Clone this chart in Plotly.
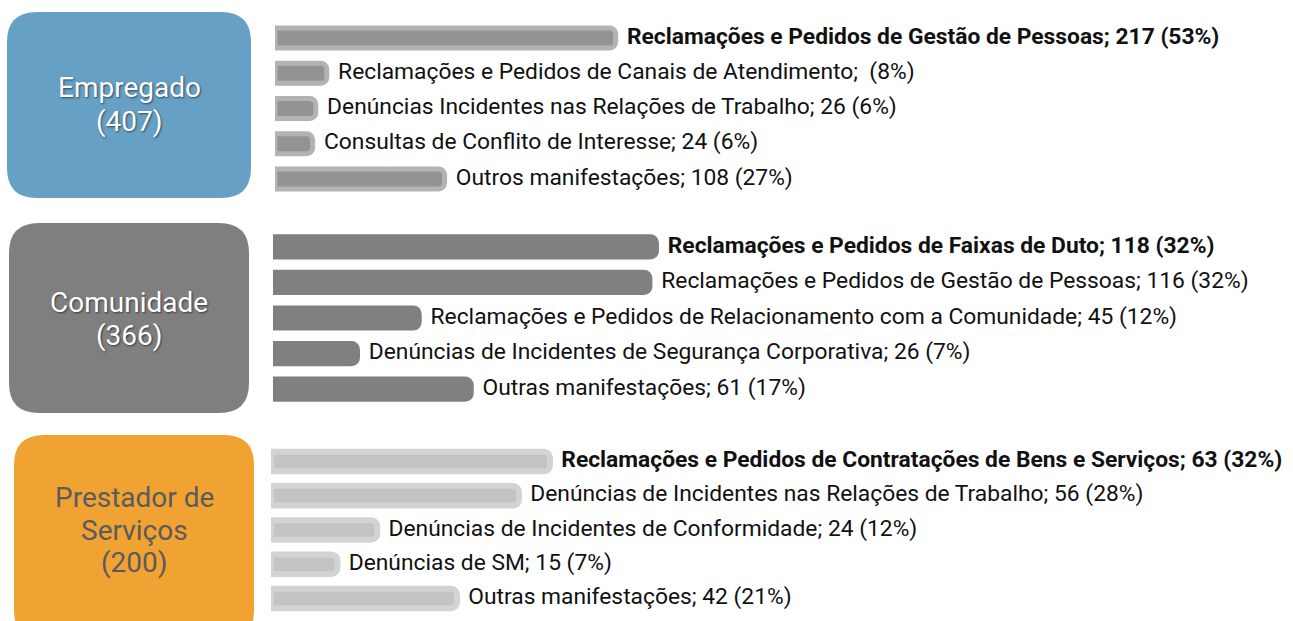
import plotly.graph_objects as go

W, H = 1293, 621

# ---------------- data ----------------
emp_categories = [
    "Reclamações e Pedidos de Gestão de Pessoas",
    "Reclamações e Pedidos de Canais de Atendimento",
    "Denúncias Incidentes nas Relações de Trabalho",
    "Consultas de Conflito de Interesse",
    "Outros manifestações",
]
emp_values = [217, 33, 26, 24, 108]
emp_labels = [
    "<b>Reclamações e Pedidos de Gestão de Pessoas; 217 (53%)</b>",
    "Reclamações e Pedidos de Canais de Atendimento;\u00a0\u00a0(8%)",
    "Denúncias Incidentes nas Relações de Trabalho; 26 (6%)",
    "Consultas de Conflito de Interesse; 24 (6%)",
    "Outros manifestações; 108 (27%)",
]

com_categories = [
    "Reclamações e Pedidos de Faixas de Duto",
    "Reclamações e Pedidos de Gestão de Pessoas",
    "Reclamações e Pedidos de Relacionamento com a Comunidade",
    "Denúncias de Incidentes de Segurança Corporativa",
    "Outras manifestações",
]
com_values = [118, 116, 45, 26, 61]
com_labels = [
    "<b>Reclamações e Pedidos de Faixas de Duto; 118 (32%)</b>",
    "Reclamações e Pedidos de Gestão de Pessoas; 116 (32%)",
    "Reclamações e Pedidos de Relacionamento com a Comunidade; 45 (12%)",
    "Denúncias de Incidentes de Segurança Corporativa; 26 (7%)",
    "Outras manifestações; 61 (17%)",
]

pre_categories = [
    "Reclamações e Pedidos de Contratações de Bens e Serviços",
    "Denúncias de Incidentes nas Relações de Trabalho",
    "Denúncias de Incidentes de Conformidade",
    "Denúncias de SM",
    "Outras manifestações",
]
pre_values = [63, 56, 24, 15, 42]
pre_labels = [
    "<b>Reclamações e Pedidos de Contratações de Bens e Serviços; 63 (32%)</b>",
    "Denúncias de Incidentes nas Relações de Trabalho; 56 (28%)",
    "Denúncias de Incidentes de Conformidade; 24 (12%)",
    "Denúncias de SM; 15 (7%)",
    "Outras manifestações; 42 (21%)",
]

group_names = [["Empregado", "(407)"], ["Comunidade", "(366)"], ["Prestador de", "Serviços", "(200)"]]

# ---------------- styling ----------------
FONT = "Roboto"
groups = [
    dict(cats=emp_categories, vals=emp_values, labels=emp_labels,
         fill="#939393", line="#b3b3b3", lw=5,
         xdom=(275, W), xmax=648.5, ydom=(20.4, 196.6),
         box=(7, 12, 251, 198), boxcol="#66a0c4", txtcol="white", shadow=True,
         tcenter=105, tstep=34),
    dict(cats=com_categories, vals=com_values, labels=com_labels,
         fill="#808080", line="#808080", lw=5,
         xdom=(273, W), xmax=313.9, ydom=(229.2, 406.8),
         box=(9, 223, 249, 413), boxcol="#7f7f7f", txtcol="white", shadow=True,
         tcenter=319, tstep=33),
    dict(cats=pre_categories, vals=pre_values, labels=pre_labels,
         fill="#c3c3c3", line="#d3d3d3", lw=6,
         xdom=(271, W), xmax=230.8, ydom=(444.4, 615.6),
         box=(14, 435, 254, 640), boxcol="#f0a233", txtcol="#5b5b5b", shadow=False,
         tcenter=530, tstep=32.5),
]


def px(x):
    return x / W


def py(y):
    return 1 - y / H


def rounded_path(x0, y0, x1, y1, r):
    X0, X1 = px(x0), px(x1)
    Y0, Y1 = py(y0), py(y1)
    rx, ry = r / W, r / H
    return (f"M {X0+rx},{Y0} L {X1-rx},{Y0} Q {X1},{Y0} {X1},{Y0-ry} "
            f"L {X1},{Y1+ry} Q {X1},{Y1} {X1-rx},{Y1} L {X0+rx},{Y1} "
            f"Q {X0},{Y1} {X0},{Y1+ry} L {X0},{Y0-ry} Q {X0},{Y0} {X0+rx},{Y0} Z")


fig = go.Figure()
shapes = []
annotations = []

for i, g in enumerate(groups):
    sfx = "" if i == 0 else str(i + 1)
    xa, ya = "x" + sfx, "y" + sfx
    fig.add_trace(go.Bar(
        x=g["vals"], y=g["cats"], orientation="h",
        marker=dict(color=g["fill"], line=dict(color=g["line"], width=g["lw"]),
                    cornerradius=6),
        xaxis=xa, yaxis=ya, hoverinfo="skip", showlegend=False,
    ))
    fig.add_trace(go.Scatter(
        x=g["vals"], y=g["cats"], mode="text",
        text=["\u00a0\u00a0" + t for t in g["labels"]],
        textposition="middle right",
        textfont=dict(family=FONT, size=22.8, color="#111111"),
        cliponaxis=False, xaxis=xa, yaxis=ya, hoverinfo="skip", showlegend=False,
    ))
    fig.update_layout(**{
        "xaxis" + sfx: dict(domain=[px(g["xdom"][0]), 1], range=[0, g["xmax"]],
                            visible=False, fixedrange=True),
        "yaxis" + sfx: dict(domain=[py(g["ydom"][1]), py(g["ydom"][0])],
                            autorange="reversed", visible=False, fixedrange=True,
                            type="category"),
    })
    x0, y0, x1, y1 = g["box"]
    shapes.append(dict(type="path", xref="paper", yref="paper",
                       path=rounded_path(x0, y0, x1, y1, 30),
                       fillcolor=g["boxcol"], line=dict(width=0), layer="below"))
    lines = group_names[i]
    n = len(lines)
    for k, ln in enumerate(lines):
        yc = g["tcenter"] + (k - (n - 1) / 2) * g["tstep"]
        annotations.append(dict(
            xref="paper", yref="paper", x=px((x0 + x1) / 2), y=py(yc),
            text=ln, showarrow=False, xanchor="center", yanchor="middle",
            font=dict(family=FONT, size=28, color=g["txtcol"],
                      shadow="1px 1px 2px rgba(0,0,0,0.55)" if g["shadow"] else "none"),
        ))

fig.update_layout(
    width=W, height=H,
    margin=dict(l=0, r=0, t=0, b=0, pad=0),
    paper_bgcolor="white", plot_bgcolor="rgba(0,0,0,0)",
    bargap=0.43,
    shapes=shapes, annotations=annotations,
    showlegend=False,
)

fig.write_html("out.html", config={"displayModeBar": False},
               post_script="document.body.style.margin='0';document.body.style.overflow='hidden';")
